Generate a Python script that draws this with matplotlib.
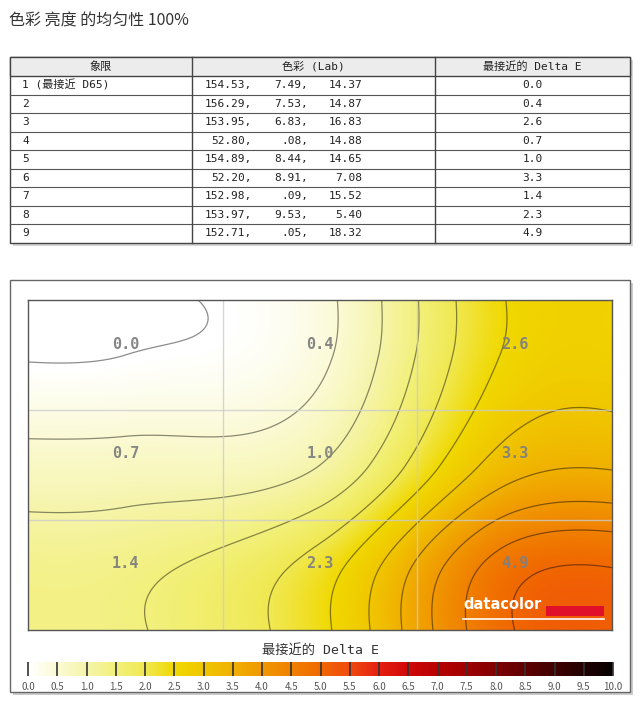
import numpy as np
import matplotlib
matplotlib.use("Agg")
import matplotlib.pyplot as plt
from matplotlib.colors import LinearSegmentedColormap
from matplotlib.patches import Rectangle

plt.rcParams['font.family'] = ['Noto Sans CJK SC', 'DejaVu Sans']

# ---------------- data ----------------
title = "色彩 亮度 的均匀性 100%"
headers = ["象限", "色彩 (Lab)", "最接近的 Delta E"]
quadrants = ["1 (最接近 D65)", "2", "3", "4", "5", "6", "7", "8", "9"]
lab_L = ["154.53,", "156.29,", "153.95,", "52.80,", "154.89,", "52.20,", "152.98,", "153.97,", "152.71,"]
lab_a = ["7.49,", "7.53,", "6.83,", ".08,", "8.44,", "8.91,", ".09,", "9.53,", ".05,"]
lab_b = ["14.37", "14.87", "16.83", "14.88", "14.65", "7.08", "15.52", "5.40", "18.32"]
delta_e = [0.0, 0.4, 2.6, 0.7, 1.0, 3.3, 1.4, 2.3, 4.9]
cbar_title = "最接近的 Delta E"
cbar_ticks = np.arange(0, 10.01, 0.5)

# ---------------- helpers ----------------
W, H = 640, 720
fig = plt.figure(figsize=(6.4, 7.2), dpi=100)
fig.patch.set_facecolor('white')

def rect(x0, y0, x1, y1):
    return [x0 / W, 1 - y1 / H, (x1 - x0) / W, (y1 - y0) / H]

bg = fig.add_axes([0, 0, 1, 1], zorder=0)
bg.set_xlim(0, W); bg.set_ylim(H, 0); bg.axis('off')

fig.text(9 / W, 1 - 21 / H, title, fontsize=11.5, color='#333333', va='center', ha='left')

# ---------------- table ----------------
tx0, tx1 = 10, 630
ty0 = 57
hdr_h = 19
row_h = 18.5
col_x = [10, 192, 435, 630]
nrows = len(quadrants)
ty1 = ty0 + hdr_h + nrows * row_h

bg.add_patch(Rectangle((tx0 + 3, ty0 + 3), tx1 - tx0, ty1 - ty0, facecolor='#bbbbbb', edgecolor='none', alpha=0.6, zorder=1))
bg.add_patch(Rectangle((tx0, ty0), tx1 - tx0, ty1 - ty0, facecolor='white', edgecolor='#444444', lw=1.0, zorder=2))
bg.add_patch(Rectangle((tx0, ty0), tx1 - tx0, hdr_h, facecolor='#ececec', edgecolor='#444444', lw=1.0, zorder=2))
for i in range(nrows - 1):
    y = ty0 + hdr_h + (i + 1) * row_h
    bg.plot([tx0, tx1], [y, y], color='#555555', lw=0.8, zorder=3)
for cx in col_x[1:-1]:
    bg.plot([cx, cx], [ty0, ty1], color='#444444', lw=1.0, zorder=3)

mono = ['DejaVu Sans Mono', 'Noto Sans CJK SC']
tcol = '#222222'
for j, h in enumerate(headers):
    bg.text((col_x[j] + col_x[j + 1]) / 2, ty0 + hdr_h / 2, h, ha='center', va='center',
            fontsize=8, family=mono, color=tcol, zorder=4)
for i in range(nrows):
    yc = ty0 + hdr_h + (i + 0.5) * row_h
    bg.text(22, yc, quadrants[i], ha='left', va='center', fontsize=8, family=mono, color=tcol, zorder=4)
    bg.text(252, yc, lab_L[i], ha='right', va='center', fontsize=8, family=mono, color=tcol, zorder=4)
    bg.text(308, yc, lab_a[i], ha='right', va='center', fontsize=8, family=mono, color=tcol, zorder=4)
    bg.text(362, yc, lab_b[i], ha='right', va='center', fontsize=8, family=mono, color=tcol, zorder=4)
    bg.text((col_x[2] + col_x[3]) / 2, yc, f"{delta_e[i]:.1f}", ha='center', va='center',
            fontsize=8, family=mono, color=tcol, zorder=4)

# ---------------- panel ----------------
px0, py0, px1, py1 = 10, 280, 630, 692
bg.add_patch(Rectangle((px0 + 3, py0 + 3), px1 - px0, py1 - py0, facecolor='#aaaaaa', edgecolor='none', alpha=0.6, zorder=1))
bg.add_patch(Rectangle((px0, py0), px1 - px0, py1 - py0, facecolor='white', edgecolor='#666666', lw=1.0, zorder=2))

# ---------------- colormap ----------------
nodes = [(0.0, '#ffffff'), (0.5, '#fbfad2'), (1.0, '#f6f4a8'), (1.5, '#f2f07a'),
         (2.0, '#f0e850'), (2.5, '#f0d800'), (3.0, '#f0c600'), (3.5, '#f0b000'),
         (4.0, '#f09800'), (4.5, '#f08000'), (5.0, '#f06800'), (5.5, '#f04a10'),
         (6.0, '#e62010'), (6.5, '#d00808'), (7.0, '#b80000'), (7.5, '#a00000'),
         (8.0, '#800000'), (9.0, '#400000'), (10.0, '#060000')]
cmap = LinearSegmentedColormap.from_list('de', [(v / 10, c) for v, c in nodes])

# ---------------- heatmap ----------------
Z = np.array(delta_e).reshape(3, 3)

def keys(x, a=-0.5):
    x = np.abs(x)
    return np.where(x <= 1, (a + 2) * x**3 - (a + 3) * x**2 + 1,
                    np.where(x < 2, a * x**3 - 5 * a * x**2 + 8 * a * x - 4 * a, 0.0))

def weights(n, q):
    Wm = np.zeros((len(q), n))
    i0 = np.floor(q).astype(int)
    for k in range(-1, 3):
        idx = i0 + k
        w = keys(q - idx)
        np.add.at(Wm, (np.arange(len(q)), np.clip(idx, 0, n - 1)), w)
    return Wm

nq = 400
qx = np.linspace(-0.5, 2.5, nq)
qy = np.linspace(-0.5, 2.5, nq)
F = weights(3, qy) @ Z @ weights(3, qx).T

ax = fig.add_axes(rect(28, 300, 612, 630), zorder=5)
ax.imshow(F, cmap=cmap, vmin=0, vmax=10, extent=(-0.5, 2.5, 2.5, -0.5), aspect='auto', interpolation='bilinear')
X, Y = np.meshgrid(qx, qy)
ax.contour(X, Y, F, levels=cbar_ticks, colors='k', alpha=0.45, linewidths=0.9)
for b in (0.5, 1.5):
    ax.axvline(b, color='#cccccc', lw=1.0, alpha=0.8)
    ax.axhline(b, color='#cccccc', lw=1.0, alpha=0.8)
for r in range(3):
    for c in range(3):
        ax.text(c, r - 0.1, f"{Z[r, c]:.1f}", ha='center', va='center', fontsize=11, fontweight='bold',
                family='DejaVu Sans Mono', color='#808080', alpha=0.95)
ax.set_xlim(-0.5, 2.5); ax.set_ylim(2.5, -0.5)
ax.set_xticks([]); ax.set_yticks([])
for s in ax.spines.values():
    s.set_color('#555555'); s.set_linewidth(1.0)

# datacolor logo
ax.text(0.745, 0.055, "datacolor", transform=ax.transAxes, ha='left', va='bottom',
        fontsize=10.5, fontweight='bold', color='white', family='DejaVu Sans')
ax.add_patch(Rectangle((0.887, 0.042), 0.1, 0.03, transform=ax.transAxes, facecolor='#e0102a', edgecolor='none'))
ax.plot([0.745, 0.987], [0.033, 0.033], transform=ax.transAxes, color='white', lw=1.2)

# ---------------- colorbar ----------------
fig.text(320 / W, 1 - 650 / H, cbar_title, ha='center', va='center', fontsize=9.5, color='#333333',
         family=['DejaVu Sans Mono', 'Noto Sans CJK SC'])
cax = fig.add_axes(rect(28, 662, 613, 676), zorder=5)
sm = matplotlib.cm.ScalarMappable(norm=matplotlib.colors.Normalize(0, 10), cmap=cmap)
cb = fig.colorbar(sm, cax=cax, orientation='horizontal', ticks=cbar_ticks)
cb.outline.set_visible(False)
cb.ax.tick_params(direction='in', length=10, width=1.2, color='#333333', pad=4,
                  labelsize=7, labelcolor='#555555')
cb.ax.set_xticklabels([f"{t:.1f}" for t in cbar_ticks])

fig.savefig("out.png", dpi=100, facecolor='white')
